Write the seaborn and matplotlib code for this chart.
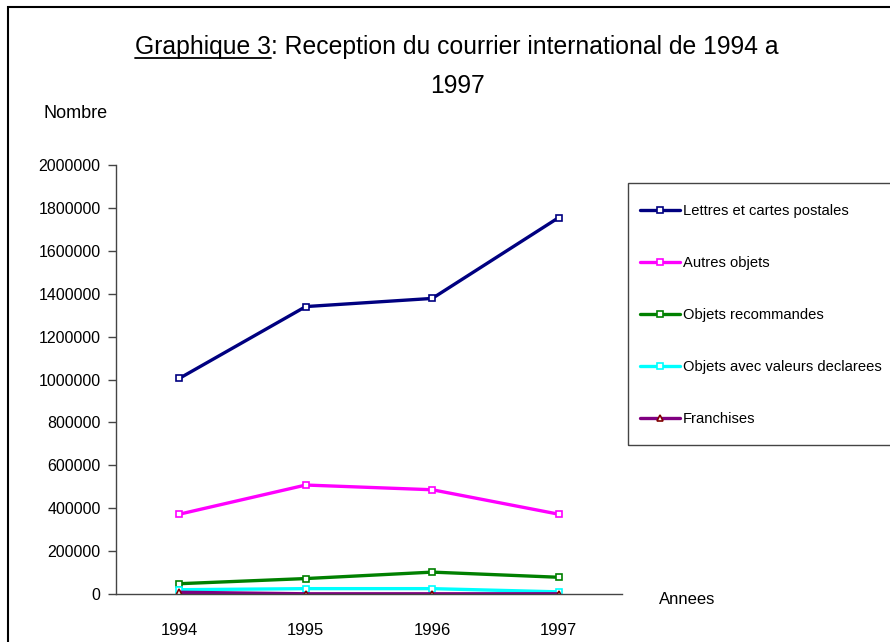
import numpy as np
import pandas as pd
import matplotlib
matplotlib.use("Agg")
import matplotlib.pyplot as plt
from matplotlib.patches import Rectangle
import seaborn as sns

# ── Données ────────────────────────────────────────────────────────────────
annees = [1994, 1995, 1996, 1997]
lettres      = [1005000, 1340000, 1378000, 1755000]
autres       = [372000, 508000, 486000, 372000]
recommandes  = [48000, 72000, 102000, 78000]
valeurs_decl = [20000, 25000, 25000, 10000]
franchises   = [8000, 1000, 1000, 1000]

series = ["Lettres et cartes postales", "Autres objets", "Objets recommandes",
          "Objets avec valeurs declarees", "Franchises"]
couleurs = ["#000080", "#FF00FF", "#008000", "#00FFFF", "#800080"]
marqueurs = ["s", "s", "s", "s", "^"]
bords = ["#000080", "#FF00FF", "#008000", "#00FFFF", "#800000"]

df = pd.DataFrame({
    "annee": annees * 5,
    "valeur": lettres + autres + recommandes + valeurs_decl + franchises,
    "serie": np.repeat(series, len(annees)),
})

# ── Style ──────────────────────────────────────────────────────────────────
sns.set_style("white")
plt.rcParams["font.family"] = ["Liberation Sans", "DejaVu Sans"]
plt.rcParams["text.color"] = "black"
plt.rcParams["xtick.color"] = "black"
plt.rcParams["ytick.color"] = "black"

fig = plt.figure(figsize=(8.9, 6.42), dpi=100)
ax = fig.add_axes([116 / 890, 1 - 594 / 642, (622 - 116) / 890, (594 - 165) / 642])

for nom, c, m, b in zip(series, couleurs, marqueurs, bords):
    sub = df[df["serie"] == nom]
    sns.lineplot(data=sub, x="annee", y="valeur", ax=ax, color=c, lw=2.4,
                 marker=m, markersize=5, markerfacecolor="white",
                 markeredgecolor=b, markeredgewidth=1.2, label=nom)

ax.set_xlim(1993.5, 1997.5)
ax.set_ylim(0, 2000000)
ax.set_yticks(np.arange(0, 2000001, 200000))
ax.set_yticklabels([f"{v:d}" for v in range(0, 2000001, 200000)], fontsize=11.5)
ax.set_xticks(annees)
ax.set_xticklabels([str(a) for a in annees], fontsize=12)
ax.set_xticks([1993.5, 1994.5, 1995.5, 1996.5, 1997.5], minor=True)
ax.tick_params(axis="x", which="major", length=0, pad=21)
ax.tick_params(axis="x", which="minor", length=6, width=1, color="#444444", direction="out")
ax.tick_params(axis="y", length=6, width=1, color="#444444", pad=5, left=True, direction="out")
ax.set_xlabel("")
ax.set_ylabel("")
for s in ["top", "right"]:
    ax.spines[s].set_visible(False)
for s in ["left", "bottom"]:
    ax.spines[s].set_color("#444444")
    ax.spines[s].set_linewidth(1)

fig.text(76 / 890, 1 - 114 / 642, "Nombre", fontsize=13, ha="center", va="center")
fig.text(687 / 890, 1 - 600 / 642, "Annees", fontsize=12, ha="center", va="center")

# Titre (avec « Graphique 3 » souligné)
ligne1 = "Graphique 3: Reception du courrier international de 1994 a"
t1 = fig.text(457 / 890, 1 - 47 / 642, ligne1, fontsize=17.8, ha="center", va="center")
fig.text(457 / 890, 1 - 86 / 642, "1997", fontsize=17.8, ha="center", va="center")
fig.canvas.draw()
r = fig.canvas.get_renderer()
bb = t1.get_window_extent(r)
tmp = fig.text(0, 0, "Graphique 3", fontsize=17.8)
w = tmp.get_window_extent(r).width
tmp.remove()
y_line = (bb.y0 + 1) / fig.bbox.height
fig.add_artist(plt.Line2D([bb.x0 / fig.bbox.width, (bb.x0 + w) / fig.bbox.width],
                          [y_line, y_line], color="black", lw=1.3))

# Légende (cadre dessiné à part, ouvert à droite comme dans l'original)
leg = ax.legend(loc="upper left", bbox_to_anchor=(640 / 890, 1 - 204 / 642),
                bbox_transform=fig.transFigure, fontsize=10.6, frameon=False,
                labelspacing=2.58, handlelength=2.75, handletextpad=0.15,
                borderpad=0, borderaxespad=0)
fig.add_artist(Rectangle((628 / 890, 1 - 445 / 642), 0.5, (445 - 183) / 642,
                         transform=fig.transFigure, fill=False,
                         edgecolor="#444444", lw=1))

# Cadre du graphique
fig.add_artist(Rectangle((8 / 890, -0.1), 1.0, 1 - 7 / 642 + 0.1,
                         transform=fig.transFigure, fill=False, edgecolor="black", lw=1.5))

fig.savefig("out.png", dpi=100)
